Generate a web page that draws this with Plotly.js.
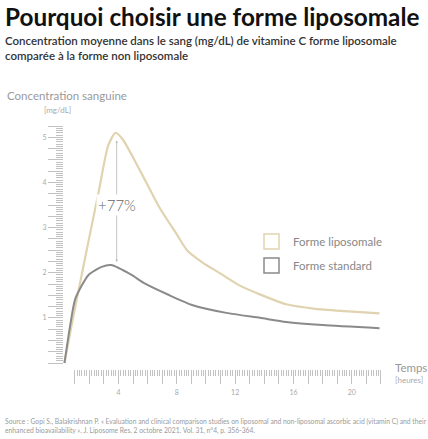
<!DOCTYPE html>
<html><head><meta charset="utf-8">
<script src="https://cdn.plot.ly/plotly-3.0.1.min.js"></script>
<style>html,body{margin:0;padding:0;background:#fff}#chart{width:428px;height:439px}</style>
</head><body><div id="chart"></div>
<script>
// ---- data ----
const liposomalHours = [0.3,0.8,1.25,1.95,2.65,3.3,3.8,4.3,5.5,6.8,8.0,8.7,9.8,11.0,12.3,13.7,15.5,17.5,19.5,21.9];
const liposomalValues = [0,0.85,1.58,2.7,3.8,4.82,5.10,4.95,4.25,3.45,2.85,2.5,2.22,1.98,1.72,1.52,1.30,1.20,1.15,1.10];
const standardHours = [0.3,0.7,1.05,1.95,2.85,3.5,4.9,5.7,7.5,9.1,11.4,13.7,15.5,18.0,21.9];
const standardValues = [0,0.85,1.43,1.95,2.13,2.17,1.95,1.78,1.50,1.28,1.11,1.00,0.91,0.84,0.77];
const seriesNames = ["Forme liposomale","Forme standard"];
const xLabelHours = [4,8,12,16,20];
const yLabelValues = [1,2,3,4,5];
const gainLabel = "+77%";

const beige = "#e0d3b0", grey = "#8a8a8a", tickCol = "#c2c2c2";
const W = 428, H = 439, L = 63, R = 381, T = 126, B = 369;
const X0 = 0.2, X1 = 22.0, Y0 = -0.133, Y1 = 5.25;
const RX0 = 1, RX1 = 22, RY0 = 0, RY1 = 5.25;   // ruler extents
const px = x => (x - L) / (R - L);
const py = y => (B - y) / (B - T);

// label aliases: blank every ruler tick except the labelled ones
const xAlias = {};
for (let h = RX0; h <= RX1; h++) if (!xLabelHours.includes(h)) xAlias[String(h)] = "";
const yAlias = {};
for (let i = 0; i <= 21; i++) { const v = i / 4; const k = v.toFixed(2); yAlias[k] = yLabelValues.includes(v) ? String(v) : ""; }

const traces = [
  {x: liposomalHours, y: liposomalValues, name: seriesNames[0], mode: "lines",
   line: {color: beige, width: 2.2, shape: "spline", smoothing: 0.6}, hoverinfo: "skip"},
  {x: standardHours, y: standardValues, name: seriesNames[1], mode: "lines",
   line: {color: grey, width: 2, shape: "spline", smoothing: 0.6}, hoverinfo: "skip"},
  {x: [], y: [], xaxis: "x2", yaxis: "y2", mode: "lines", hoverinfo: "skip"}
];

const iPeakL = liposomalValues.indexOf(Math.max(...liposomalValues));
const peakX = liposomalHours[iPeakL] + 0.08;
const topY = liposomalValues[iPeakL] - 0.17;
const botY = Math.max(...standardValues) + 0.07;
const midY = 3.49;

const font = "Lato, 'Open Sans', sans-serif";
const ann = (x, y, text, size, color, xanchor, extra) => Object.assign({
  xref: "paper", yref: "paper", x: px(x), y: py(y), text, showarrow: false,
  xanchor: xanchor || "left", yanchor: "middle", font: {family: font, size, color}
}, extra || {});

const annotations = [
  ann(3, 16, "<b>Pourquoi choisir une forme liposomale</b>", 24.3, "#111"),
  ann(3, 48, "Concentration moyenne dans le sang (mg/dL) de vitamine C forme liposomale<br>comparée à la forme non liposomale", 11.5, "#333", "left", {align: "left", font: {family: font, size: 11.5, color: "#333", weight: 600}}),
  ann(5, 96, "Concentration sanguine", 11.5, "#9a9a9a"),
  ann(57, 110, "[mg/dL]", 8, "#aaa", "center"),
  ann(393, 367, "Temps", 11.5, "#9a9a9a"),
  ann(393, 380, "[heures]", 8, "#aaa"),
  ann(3, 426, "Source : Gopi S., Balakrishnan P. « Evaluation and clinical comparison studies on liposomal and non-liposomal ascorbic acid (vitamin C) and their<br>enhanced bioavailability ». J. Liposome Res. 2 octobre 2021. Vol. 31, n°4, p. 356-364.", 6.75, "#9a9a9a", "left", {align: "left"}),
  ann(291, 241, seriesNames[0], 11.5, "#888"),
  ann(291, 265, seriesNames[1], 11.5, "#888"),
  {x: peakX, y: topY, ax: peakX, ay: midY, xref: "x", yref: "y", axref: "x", ayref: "y", text: "",
   showarrow: true, arrowhead: 2, arrowsize: 0.6, arrowwidth: 0.8, arrowcolor: "#b5b5b5"},
  {x: peakX, y: botY, ax: peakX, ay: midY, xref: "x", yref: "y", axref: "x", ayref: "y", text: "",
   showarrow: true, arrowhead: 2, arrowsize: 0.6, arrowwidth: 0.8, arrowcolor: "#b5b5b5"},
  {x: peakX, y: midY, xref: "x", yref: "y", text: gainLabel, showarrow: false, bgcolor: "#fff",
   font: {family: font, size: 15, color: "#666", weight: 300}, xanchor: "center", yanchor: "middle"}
];

const shapes = [
  {type: "rect", xref: "paper", yref: "paper", x0: px(264), x1: px(279), y0: py(234), y1: py(249),
   line: {color: beige, width: 1.5}, fillcolor: "rgba(0,0,0,0)"},
  {type: "rect", xref: "paper", yref: "paper", x0: px(264), x1: px(279), y0: py(258), y1: py(273),
   line: {color: grey, width: 1.5}, fillcolor: "rgba(0,0,0,0)"}
];

const hidden = {showgrid: false, zeroline: false, showline: false, ticks: "", showticklabels: false};
const tickFont = {size: 7, color: "#aaa", family: font};

const layout = {
  width: W, height: H, margin: {l: L, r: W - R, t: T, b: H - B, pad: 0},
  paper_bgcolor: "#fff", plot_bgcolor: "rgba(0,0,0,0)", showlegend: false,
  font: {family: font},
  xaxis: Object.assign({range: [X0, X1], domain: [0, 1]}, hidden),
  yaxis: Object.assign({range: [Y0, Y1], domain: [0, 1]}, hidden),
  xaxis2: {range: [RX0, RX1], domain: [(RX0 - X0) / (X1 - X0), (RX1 - X0) / (X1 - X0)],
    anchor: "free", position: 0, showgrid: false, zeroline: false, showline: false,
    tickmode: "linear", tick0: 0, dtick: 1, ticks: "outside", ticklen: 14, tickwidth: 1, tickcolor: tickCol,
    labelalias: xAlias, tickfont: tickFont, ticklabelstandoff: 3,
    minor: {tick0: 0, dtick: 1 / 6, ticks: "outside", ticklen: 6, tickwidth: 1, tickcolor: tickCol, showgrid: false}},
  yaxis2: {range: [RY0, RY1], domain: [(RY0 - Y0) / (Y1 - Y0), (RY1 - Y0) / (Y1 - Y0)],
    anchor: "free", position: 0, showgrid: false, zeroline: false, showline: false,
    tickmode: "linear", tick0: 0, dtick: 0.25, tickformat: ".2f", ticks: "outside", ticklen: 15, tickwidth: 1, tickcolor: tickCol,
    labelalias: yAlias, tickfont: tickFont,
    minor: {tick0: 0, dtick: 0.05, ticks: "outside", ticklen: 7, tickwidth: 1, tickcolor: tickCol, showgrid: false}},
  annotations, shapes
};

Plotly.newPlot("chart", traces, layout, {displayModeBar: false, staticPlot: true});
</script></body></html>
